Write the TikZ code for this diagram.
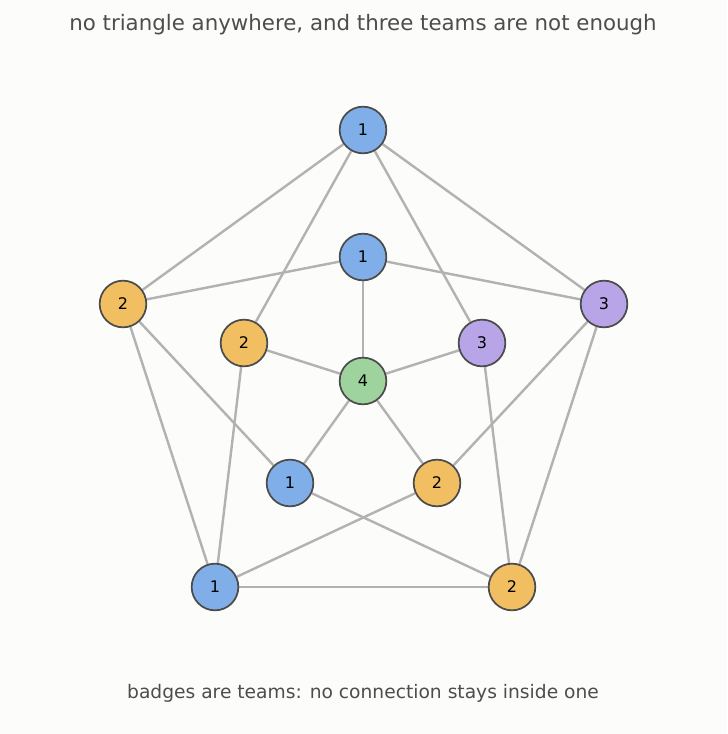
\documentclass[tikz,border=0pt]{standalone}
\usepackage{fontspec}
\setmainfont{DejaVu Sans}
\usetikzlibrary{backgrounds}
\begin{document}
\begin{tikzpicture}[x=0.75pt,y=-0.75pt,
  v/.style={circle,draw=black!70,line width=1.3pt,minimum size=35pt,inner sep=0pt,font=\fontsize{12}{12}\selectfont},
  bl/.style={v,fill=blue1},or/.style={v,fill=orange1},pu/.style={v,fill=purple1},gr/.style={v,fill=green1},
  e/.style={draw=black!30,line width=1.8pt}]
\definecolor{blue1}{HTML}{7FAEE8}\definecolor{orange1}{HTML}{F2BE62}
\definecolor{purple1}{HTML}{B8A5E8}\definecolor{green1}{HTML}{9ED39E}
\definecolor{bg}{HTML}{FCFCFA}\definecolor{txt}{HTML}{4D4D4D}
\useasboundingbox (0,0) rectangle (727,734);
\node[text=txt,font=\fontsize{16}{16}\selectfont] (title) at (363,25) {no triangle anywhere, and three teams are not enough};
\node[text=txt,font=\fontsize{14}{14}\selectfont] (cap) at (363,693) {badges are teams: no connection stays inside one};
\node[bl] (A) at (363,130) {1};
\node[or] (B) at (123,304) {2};
\node[pu] (C) at (604,304) {3};
\node[bl] (D) at (215,587) {1};
\node[or] (E) at (512,587) {2};
\node[bl] (a) at (363,257) {1};
\node[or] (b) at (244,343) {2};
\node[pu] (c) at (482,343) {3};
\node[bl] (d) at (290,483) {1};
\node[or] (e) at (437,483) {2};
\node[gr] (f) at (363,381) {4};
\begin{scope}[on background layer]
\fill[bg] (0,0) rectangle (727,734);
\foreach \u/\w in {A/B,A/C,B/D,C/E,D/E,A/b,A/c,B/a,B/d,C/a,C/e,D/b,D/e,E/d,E/c,f/a,f/b,f/c,f/d,f/e}
  \draw[e] (\u) -- (\w);
\end{scope}
\end{tikzpicture}
\end{document}
